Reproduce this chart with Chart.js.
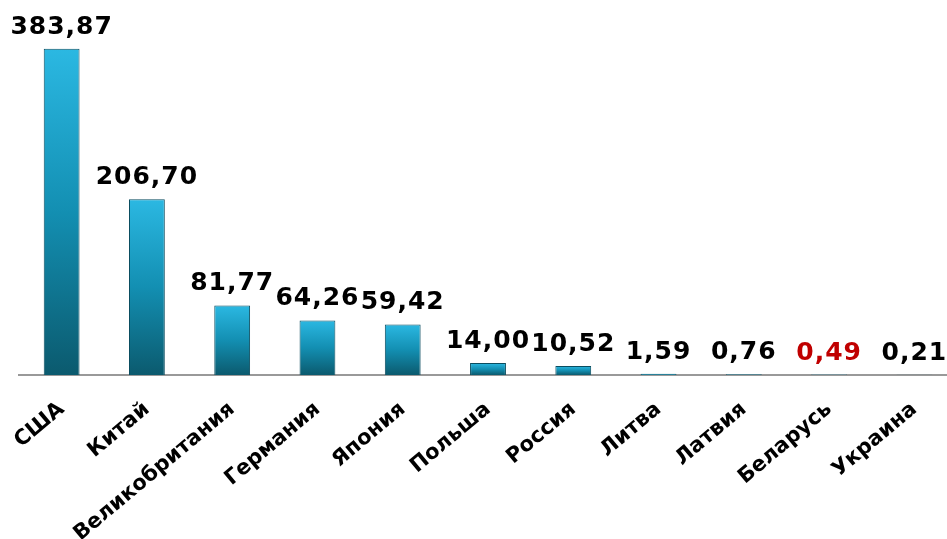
<!DOCTYPE html>
<html>
<head>
<meta charset="utf-8">
<script src="https://cdn.jsdelivr.net/npm/chart.js@4.4.1/dist/chart.umd.min.js"></script>
<style>
  html, body { margin: 0; padding: 0; background: #fff; overflow: hidden; }
  #wrap { width: 960px; height: 539px; }
</style>
</head>
<body>
<div id="wrap"><canvas id="chart"></canvas></div>
<script>
// countries and values (comma decimal labels as in the original)
const countries = ["США", "Китай", "Великобритания", "Германия", "Япония", "Польша", "Россия", "Литва", "Латвия", "Беларусь", "Украина"];
const values = [383.87, 206.70, 81.77, 64.26, 59.42, 14.00, 10.52, 1.59, 0.76, 0.49, 0.21];
const highlight = "Беларусь";

const FONT = "'DejaVu Sans', Verdana, sans-serif";

function barGradient(ctx) {
  const chart = ctx.chart;
  const area = chart.chartArea;
  if (!area) return "#1a9cc0";
  const y = chart.scales.y;
  const top = y.getPixelForValue(ctx.raw);
  const bottom = y.getPixelForValue(0);
  const g = chart.ctx.createLinearGradient(0, top, 0, Math.max(bottom, top + 1));
  g.addColorStop(0, "#2bb8e2");
  g.addColorStop(0.5, "#138fb2");
  g.addColorStop(1, "#0b5a6e");
  return g;
}

// value labels above bars
const valueLabels = {
  id: "valueLabels",
  afterDatasetsDraw(chart) {
    const { ctx } = chart;
    const meta = chart.getDatasetMeta(0);
    ctx.save();
    ctx.font = "bold 25px " + FONT;
    ctx.letterSpacing = "1px";
    ctx.textAlign = "center";
    ctx.textBaseline = "alphabetic";
    meta.data.forEach((bar, i) => {
      ctx.fillStyle = countries[i] === highlight ? "#c00000" : "#000";
      ctx.fillText(values[i].toFixed(2).replace(".", ","), bar.x, bar.y - 15);
    });
    ctx.restore();
  },
};

new Chart(document.getElementById("chart"), {
  type: "bar",
  data: {
    labels: countries,
    datasets: [{
      data: values,
      backgroundColor: barGradient,
      borderColor: "#0a4d60",
      borderWidth: 1,
      barPercentage: 0.42,
      categoryPercentage: 1,
    }],
  },
  options: {
    responsive: true, maintainAspectRatio: false, animation: false,
    layout: { padding: { top: 35, left: 19, right: 3, bottom: 0 } },
    plugins: { legend: { display: false }, tooltip: { enabled: false } },
    scales: {
      x: {
        grid: { display: false },
        border: { display: true, color: "#999", width: 2 },
        ticks: { color: "#000", font: { family: FONT, size: 21, weight: "bold" }, maxRotation: 40, minRotation: 40, padding: 14 },
        afterFit: (s) => { s.height = 164; },
      },
      y: { display: false, min: 0, max: 400 },
    },
  },
  plugins: [valueLabels],
});
</script>
</body>
</html>
